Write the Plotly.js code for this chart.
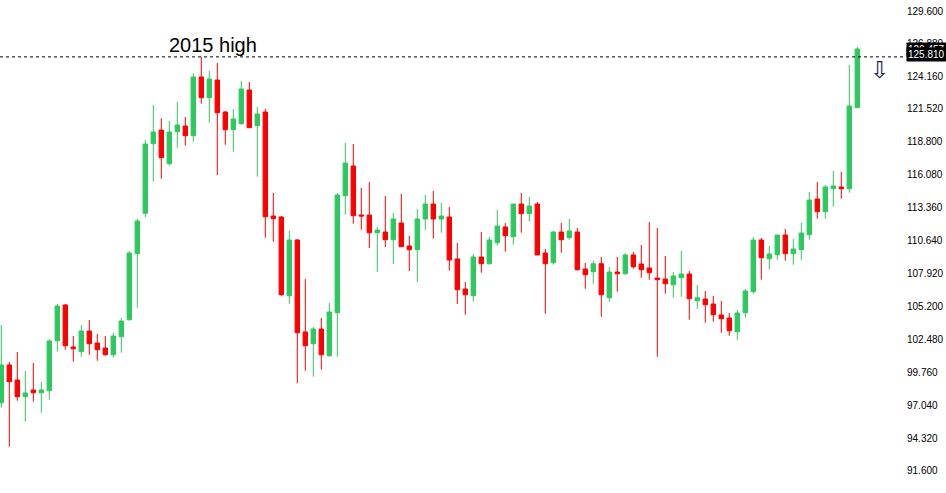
<!DOCTYPE html>
<html>
<head>
<meta charset="utf-8">
<script src="https://cdn.plot.ly/plotly-3.0.1.min.js"></script>
<style>
  html, body { margin: 0; padding: 0; background: #ffffff; }
  #chart { width: 946px; height: 493px; }
</style>
</head>
<body>
<div id="chart"></div>
<script>
// Daily candles (oldest -> newest)
const openP = [
  97.241, 100.356, 99.116, 97.737, 98.290, 98.067, 98.232, 102.363, 105.312, 101.842,
  101.454, 103.164, 102.173, 101.760, 101.206, 102.694, 104.098, 109.550, 112.888, 118.637,
  119.769, 116.985, 119.629, 120.100, 119.298, 124.148, 122.438, 123.900, 121.256, 119.794,
  120.290, 123.074, 120.124, 121.256, 112.665, 112.582, 106.080, 110.682, 103.082, 102.115,
  103.330, 101.124, 104.676, 114.342, 116.795, 112.747, 112.747, 111.285, 111.343, 110.707,
  112.086, 110.186, 109.881, 112.417, 113.656, 112.417, 112.582, 109.112, 106.634, 106.080,
  109.278, 108.724, 110.459, 111.756, 110.955, 113.656, 112.855, 113.656, 109.608, 108.807,
  111.343, 110.872, 111.343, 108.286, 108.063, 108.724, 105.915, 108.039, 107.898, 109.443,
  108.699, 108.369, 107.543, 107.460, 106.989, 107.568, 107.873, 105.667, 105.808, 105.395,
  104.486, 104.238, 103.107, 104.676, 106.411, 110.682, 109.137, 109.468, 111.095, 109.550,
  109.881, 111.120, 114.069, 113.020, 114.920, 115.060, 114.920, 121.611
];
const highP = [
  103.660, 100.603, 101.430, 99.860, 100.521, 98.951, 102.479, 105.395, 105.395, 102.751,
  103.660, 104.073, 102.917, 102.751, 102.999, 104.238, 109.773, 112.417, 118.943, 121.835,
  120.736, 120.513, 122.082, 120.843, 124.453, 125.810, 124.643, 125.304, 121.339, 121.504,
  123.817, 123.735, 121.669, 121.504, 114.565, 112.665, 111.426, 110.765, 107.460, 103.495,
  104.238, 105.478, 114.565, 118.695, 118.613, 114.978, 115.474, 111.756, 114.317, 112.913,
  114.482, 111.013, 113.243, 114.400, 114.730, 113.739, 113.408, 110.434, 107.212, 109.526,
  111.343, 110.930, 113.160, 112.086, 113.656, 114.565, 114.234, 113.821, 109.939, 111.426,
  112.086, 112.417, 111.673, 108.782, 108.972, 109.278, 108.452, 109.278, 109.608, 109.691,
  110.269, 112.169, 111.673, 109.360, 108.039, 109.773, 108.121, 106.965, 106.469, 106.056,
  105.643, 104.651, 104.899, 106.634, 110.930, 110.847, 110.186, 111.095, 111.591, 110.765,
  112.086, 114.647, 115.474, 115.226, 116.382, 116.300, 125.164, 126.626
];
const lowP = [
  96.828, 93.607, 97.407, 95.672, 97.324, 96.415, 97.489, 101.454, 101.619, 100.628,
  101.041, 101.206, 100.711, 101.124, 100.959, 101.372, 104.015, 105.089, 112.558, 115.498,
  115.746, 116.820, 118.307, 118.472, 118.803, 121.942, 120.372, 116.052, 118.555, 117.977,
  120.207, 119.959, 115.911, 110.872, 110.541, 106.080, 105.420, 98.844, 99.885, 99.389,
  99.967, 101.041, 101.041, 112.772, 112.029, 111.533, 110.021, 108.039, 110.104, 108.699,
  110.129, 108.121, 107.212, 111.508, 110.790, 111.285, 108.146, 105.395, 104.511, 105.585,
  107.981, 108.642, 110.211, 109.715, 110.294, 111.285, 112.194, 109.443, 104.593, 108.642,
  109.633, 110.707, 108.146, 106.659, 107.072, 104.346, 105.585, 106.411, 107.816, 108.311,
  107.568, 107.402, 101.041, 106.246, 105.915, 105.998, 104.098, 105.006, 103.850, 103.933,
  103.024, 102.776, 102.445, 104.263, 106.246, 107.402, 108.229, 109.055, 108.972, 108.642,
  109.055, 110.707, 112.442, 112.442, 113.433, 114.094, 114.590, 121.611
];
const closeP = [
  100.356, 98.976, 97.737, 98.043, 98.067, 98.290, 102.338, 105.230, 101.950, 101.702,
  103.164, 102.115, 101.619, 101.206, 102.751, 103.991, 109.608, 112.252, 118.613, 119.604,
  117.481, 119.604, 120.182, 119.298, 124.148, 122.438, 123.982, 121.198, 119.794, 120.678,
  123.156, 119.959, 121.091, 112.607, 112.442, 106.163, 110.682, 103.024, 101.950, 103.330,
  101.206, 104.734, 114.400, 117.043, 112.690, 112.665, 111.285, 111.508, 110.707, 112.417,
  110.129, 109.881, 112.417, 113.656, 112.417, 112.665, 109.030, 106.576, 106.163, 109.278,
  108.724, 110.682, 111.839, 111.037, 113.656, 112.855, 113.491, 109.443, 108.724, 111.343,
  110.707, 111.426, 108.229, 107.816, 108.724, 106.163, 108.039, 107.898, 109.443, 108.476,
  108.229, 107.981, 107.402, 107.072, 107.708, 107.873, 105.833, 105.915, 105.337, 104.511,
  104.181, 103.189, 104.651, 106.469, 110.682, 109.220, 109.526, 111.095, 109.550, 109.939,
  111.260, 113.987, 113.020, 115.060, 115.143, 114.920, 121.752, 126.461
];
const barIndex = openP.map((_, i) => i);

const priceTicks = [91.6, 94.32, 97.04, 99.76, 102.48, 105.2, 107.92, 110.64, 113.36, 116.08, 118.8, 121.52, 124.16, 126.88, 129.6];
const priceTickText = ["91.600", "94.320", "97.040", "99.760", "102.480", "105.200", "107.920", "110.640", "113.360", "116.080", "118.800", "121.520", "124.160", "126.880", "129.600"];

const highLevel = 125.81;
const highLabel = "2015 high";
const lastPriceText = "126.457";
const levelText = "125.810";

const UP = '#2EC95E';
const DOWN = '#FF0000';

const trace = {
  type: 'candlestick',
  x: barIndex,
  open: openP, high: highP, low: lowP, close: closeP,
  increasing: { line: { color: UP, width: 1 }, fillcolor: UP },
  decreasing: { line: { color: DOWN, width: 1 }, fillcolor: DOWN },
  whiskerwidth: 0,
  hoverinfo: 'skip',
  showlegend: false
};

const layout = {
  width: 946, height: 493,
  margin: { l: 0, r: 40, t: 0, b: 0, pad: 0 },
  paper_bgcolor: '#ffffff', plot_bgcolor: '#ffffff',
  boxgap: 0.45, boxgroupgap: 0,
  showlegend: false,
  xaxis: {
    range: [-0.1625, 113.0875],
    showticklabels: false, showgrid: false, zeroline: false, showline: false, ticks: '',
    rangeslider: { visible: false }, fixedrange: true
  },
  yaxis: {
    side: 'right',
    range: [89.782, 130.509],
    tickmode: 'array', tickvals: priceTicks, ticktext: priceTickText,
    showgrid: false, zeroline: false, showline: false, ticks: '',
    tickfont: { family: 'Liberation Sans, Arial, sans-serif', size: 10, color: '#000000' },
    fixedrange: true
  },
  shapes: [{
    type: 'line', xref: 'paper', yref: 'y',
    x0: 0, x1: 0.999, y0: highLevel, y1: highLevel,
    line: { color: '#000000', width: 1, dash: '3px,3px' }
  }],
  annotations: [
    {
      text: highLabel, xref: 'x', yref: 'y', x: 26.46, y: 126.81,
      xanchor: 'center', yanchor: 'middle', showarrow: false,
      font: { family: 'Liberation Sans, Arial, sans-serif', size: 20, color: '#000000' }
    },
    {
      text: '⇩', xref: 'x', yref: 'y', x: 109.8, y: 124.73,
      xanchor: 'center', yanchor: 'middle', showarrow: false,
      font: { family: 'DejaVu Sans, sans-serif', size: 23, color: '#20204a' }
    },
    {
      text: lastPriceText, xref: 'paper', yref: 'y', x: 1, y: 126.46,
      xanchor: 'left', yanchor: 'middle', showarrow: false,
      bgcolor: '#000000', borderpad: 1,
      font: { family: 'Liberation Sans, Arial, sans-serif', size: 10, color: '#ffffff' }
    },
    {
      text: levelText, xref: 'paper', yref: 'y', x: 1, y: highLevel, yshift: 2,
      xanchor: 'left', yanchor: 'middle', showarrow: false,
      bgcolor: '#000000', borderpad: 1,
      font: { family: 'Liberation Sans, Arial, sans-serif', size: 10, color: '#ffffff' }
    }
  ]
};

Plotly.newPlot('chart', [trace], layout, { staticPlot: true, displayModeBar: false });
</script>
</body>
</html>
